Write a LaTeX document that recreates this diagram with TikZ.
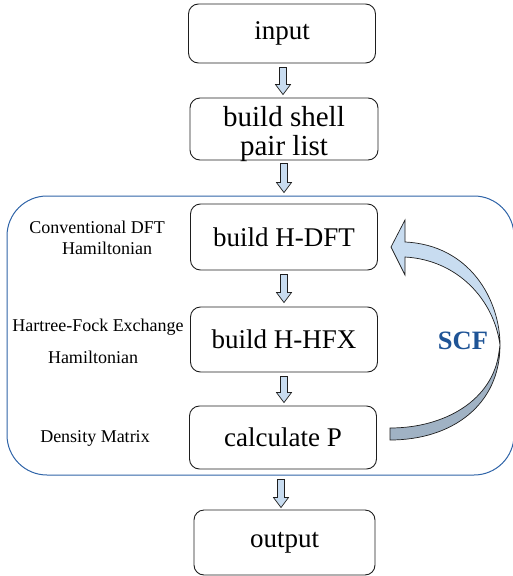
\documentclass[tikz,border=0pt]{standalone}
\usepackage{fontspec}
\setmainfont{Liberation Serif}
\usetikzlibrary{calc}
\definecolor{frameblue}{RGB}{47,100,168}
\definecolor{scfblue}{RGB}{31,84,150}
\definecolor{arrowfill}{RGB}{200,220,240}
\definecolor{arrowdark}{RGB}{160,178,196}
\definecolor{boxline}{RGB}{30,30,30}
\tikzset{
  stepbox/.style={draw=boxline, line width=0.9pt, rounded corners=10pt, minimum width=187pt, inner sep=0pt, font=\fontsize{27}{27}\selectfont},
  sidelabel/.style={font=\fontsize{18}{18}\selectfont, inner sep=0pt},
  barrowstyle/.style={draw=boxline, line width=0.7pt, fill=arrowfill, line join=miter},
}
\newcommand{\blockarrow}[2]{%
  \draw[barrowstyle] let \p1=#1, \p2=#2 in
    (\x1-3.5pt,\y1) -- (\x1+3.5pt,\y1) -- (\x1+3.5pt,\y2+10pt) -- (\x1+7.5pt,\y2+10pt)
    -- (\x1,\y2) -- (\x1-7.5pt,\y2+10pt) -- (\x1-3.5pt,\y2+10pt) -- cycle;}
\begin{document}
\begin{tikzpicture}[x=1pt,y=-1pt]
\useasboundingbox (0,0) rectangle (512,576);
% outer loop frame
\draw[frameblue, line width=1pt, rounded corners=40pt] (7,196) rectangle (514,475);
% boxes
\node[stepbox, minimum height=59pt] (in) at (282,33.5) {input};
\node[stepbox, minimum height=62pt, minimum width=188pt, font=\fontsize{29}{28}\selectfont] (sh) at (284,129)
  {\raisebox{-12.5pt}[0pt][0pt]{\begin{tabular}{@{}c@{}}build shell\\pair list\end{tabular}}};
\node[stepbox, minimum height=66pt] (dft) at (284,237) {build H-DFT};
\node[stepbox, minimum height=65pt] (hfx) at (284,339.5) {build H-HFX};
\node[stepbox, minimum height=63pt] (cp) at (283,437.5) {calculate P};
\node[stepbox, minimum height=65pt, minimum width=181pt] (out) at (284.5,542.5) {output};
% side labels
\node[sidelabel] (l1a) at (97,227) {Conventional DFT};
\node[sidelabel] (l1b) at (107,248) {Hamiltonian};
\node[sidelabel] (l2a) at (98,327) {Hartree-Fock Exchange};
\node[sidelabel] (l2b) at (93,357) {Hamiltonian};
\node[sidelabel] (l3) at (95,438) {Density Matrix};
% block arrows between steps
\coordinate (a1s) at ($(in.south)+(1,4)$);  \coordinate (a1e) at ($(sh.north)+(0,-3)$);
\coordinate (a2s) at ($(sh.south)+(0,3)$);  \coordinate (a2e) at ($(dft.north)+(0,-11)$);
\coordinate (a3s) at ($(dft.south)+(0,4)$); \coordinate (a3e) at ($(hfx.north)+(0,-4)$);
\coordinate (a4s) at ($(hfx.south)+(0,4)$); \coordinate (a4e) at ($(cp.north)+(0,-3)$);
\coordinate (a5s) at ($(cp.south)+(-2,10)$); \coordinate (a5e) at ($(out.north)+(0,-2)$);
\blockarrow{(a1s)}{(a1e)}
\blockarrow{(a2s)}{(a2e)}
\blockarrow{(a3s)}{(a3e)}
\blockarrow{(a4s)}{(a4e)}
\blockarrow{(a5s)}{(a5e)}
% SCF curved arrow
\fill[arrowdark, draw=boxline, line width=0.7pt]
  (500,345) .. controls (500,405) and (452,440) .. (390,440)
  -- (390,428) .. controls (445,428) and (493,400) .. (499,352) -- cycle;
\fill[arrowfill, draw=boxline, line width=0.7pt, line join=miter]
  (500,345) .. controls (500,300) and (470,245) .. (405,242)
  -- (405,220) -- (391,247) -- (405,275) -- (405,257)
  .. controls (458,260) and (494,300) .. (500,345) -- cycle;
\node[font=\fontsize{26.5}{26.5}\selectfont\bfseries, text=scfblue, inner sep=0pt] (scf) at (463,341) {SCF};
\end{tikzpicture}
\end{document}
